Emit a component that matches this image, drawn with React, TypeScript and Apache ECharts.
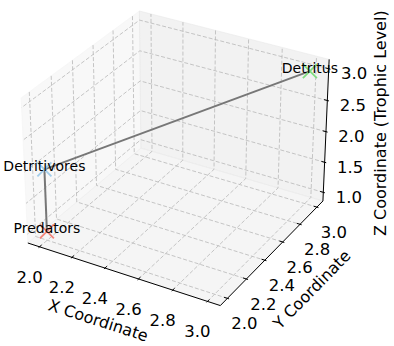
import React, { useEffect, useRef } from 'react';
import * as echarts from 'echarts';

const W = 394;
const H = 346;

// Food-web nodes placed in 3D (x, y, trophic level)
const nodeNames = ['Predators', 'Detritivores', 'Detritus'];
const nodeX = [2, 2, 3];
const nodeY = [2, 2, 3];
const nodeZ = [1, 2, 3];
const nodeColors = ['#f2857a', '#a3cdea', '#80de80'];

// Links between nodes (indices into the node arrays)
const linkFrom = [2, 1];
const linkTo = [1, 0];

const xTicks = [2.0, 2.2, 2.4, 2.6, 2.8, 3.0];
const yTicks = [2.0, 2.2, 2.4, 2.6, 2.8, 3.0];
const zTicks = [1.0, 1.5, 2.0, 2.5, 3.0];
const axisTitles = ['X Coordinate', 'Y Coordinate', 'Z Coordinate (Trophic Level)'];

// ---- view / camera ----
const ELEV = 30;
const AZIM = -60;
const EYE_DIST = 10;
const BOX_ASPECT = [4, 4, 3];
const CX = 178;
const CY = 151.5;
const SCALE = 1930;

const FONT = '"DejaVu Sans", Verdana, sans-serif';

function limits(vals: number[]): [number, number] {
  const lo = Math.min(...vals);
  const hi = Math.max(...vals);
  const r = hi - lo;
  const a = lo - 0.05 * r;
  const b = hi + 0.05 * r;
  const m = (b - a) / 48;
  return [a - m, b + m];
}

const XL = limits(nodeX);
const YL = limits(nodeY);
const ZL = limits(nodeZ);

const aspectNorm = Math.hypot(...BOX_ASPECT);
const box = BOX_ASPECT.map((v) => (v * 1.8294640721620434) / aspectNorm);

const er = (ELEV * Math.PI) / 180;
const ar = (AZIM * Math.PI) / 180;
const vw = [Math.cos(er) * Math.cos(ar), Math.cos(er) * Math.sin(ar), Math.sin(er)];
const uLen = Math.hypot(vw[0], vw[1]);
const vu = [-vw[1] / uLen, vw[0] / uLen, 0];
const vv = [
  vw[1] * vu[2] - vw[2] * vu[1],
  vw[2] * vu[0] - vw[0] * vu[2],
  vw[0] * vu[1] - vw[1] * vu[0],
];

const dot = (a: number[], b: number[]) => a[0] * b[0] + a[1] * b[1] + a[2] * b[2];

// perspective projection of a data point into the flat plane
function project(x: number, y: number, z: number): [number, number] {
  const p = [
    ((x - XL[0]) / (XL[1] - XL[0])) * box[0] - box[0] / 2,
    ((y - YL[0]) / (YL[1] - YL[0])) * box[1] - box[1] / 2,
    ((z - ZL[0]) / (ZL[1] - ZL[0])) * box[2] - box[2] / 2,
  ];
  const den = EYE_DIST - dot(vw, p);
  return [dot(vu, p) / den, dot(vv, p) / den];
}

const [x0, x1] = XL;
const [y0, y1] = YL;
const [z0, z1] = ZL;

const PANE_COLORS = ['rgba(242,242,242,0.5)', 'rgba(230,230,230,0.5)', 'rgba(236,236,236,0.5)'];
const PANES = [
  [[x0, y0, z0], [x0, y1, z0], [x0, y1, z1], [x0, y0, z1]],
  [[x0, y1, z0], [x1, y1, z0], [x1, y1, z1], [x0, y1, z1]],
  [[x0, y0, z0], [x1, y0, z0], [x1, y1, z0], [x0, y1, z0]],
];

const AXIS_EDGES = [
  [[x0, y0, z0], [x1, y0, z0]],
  [[x1, y0, z0], [x1, y1, z0]],
  [[x1, y1, z0], [x1, y1, z1]],
];

const tickItems: number[][] = [
  ...xTicks.map((t) => [0, t]),
  ...yTicks.map((t) => [1, t]),
  ...zTicks.map((t) => [2, t]),
];

function gridPath(axis: number, t: number): number[][] {
  if (axis === 0) return [[t, y0, z0], [t, y1, z0], [t, y1, z1]];
  if (axis === 1) return [[x0, t, z1], [x0, t, z0], [x1, t, z0]];
  return [[x1, y1, t], [x0, y1, t], [x0, y0, t]];
}

function tickSegment(axis: number, t: number): number[][] {
  const dx = (x1 - x0) / 12;
  const dy = (y1 - y0) / 12;
  if (axis === 0) return [[t, y0 + 0.2 * dy, z0], [t, y0 - 0.1 * dy, z0]];
  if (axis === 1) return [[x1 - 0.2 * dx, t, z0], [x1 + 0.1 * dx, t, z0]];
  return [[x1 - 0.2 * dx, y1, t], [x1 + 0.1 * dx, y1, t]];
}

function tickAnchor(axis: number, t: number): number[] {
  if (axis === 0) return [t, y0, z0];
  if (axis === 1) return [x1, t, z0];
  return [x1, y1, t];
}

const TICK_LABEL_OFFSET = [[-10, 30.5], [17, 25.5], [25.5, 5]];
const TITLE_OFFSET = [[-23.3, 47], [38, 38.5], [55, -8.5]];

function buildOption(): any {
  const toPx = (api: any, p: number[]) => api.coord(project(p[0], p[1], p[2]));

  return {
    animation: false,
    grid: { left: 0, right: 0, top: 0, bottom: 0, containLabel: false },
    xAxis: { type: 'value', min: -CX / SCALE, max: (W - CX) / SCALE, show: false },
    yAxis: { type: 'value', min: (CY - H) / SCALE, max: CY / SCALE, show: false },
    series: [
      {
        type: 'custom',
        name: 'panes',
        silent: true,
        z: 1,
        data: PANES.map((_, i) => [i, 0]),
        renderItem: (_: any, api: any) => {
          const i = api.value(0);
          return {
            type: 'polygon',
            shape: { points: PANES[i].map((p) => toPx(api, p)) },
            style: { fill: PANE_COLORS[i], stroke: PANE_COLORS[i], lineWidth: 1 },
          };
        },
      },
      {
        type: 'custom',
        name: 'gridlines',
        silent: true,
        z: 2,
        data: tickItems,
        renderItem: (_: any, api: any) => {
          const pts = gridPath(api.value(0), api.value(1)).map((p) => toPx(api, p));
          return {
            type: 'polyline',
            shape: { points: pts },
            style: { stroke: '#b8b8b8', lineWidth: 0.8, lineDash: [4, 2], fill: 'none' },
          };
        },
      },
      {
        type: 'custom',
        name: 'axes',
        silent: true,
        z: 3,
        data: AXIS_EDGES.map((_, i) => [i, 0]),
        renderItem: (_: any, api: any) => {
          const e = AXIS_EDGES[api.value(0)];
          const a = toPx(api, e[0]);
          const b = toPx(api, e[1]);
          return {
            type: 'line',
            shape: { x1: a[0], y1: a[1], x2: b[0], y2: b[1] },
            style: { stroke: '#000', lineWidth: 1 },
          };
        },
      },
      {
        type: 'custom',
        name: 'ticks',
        silent: true,
        z: 3,
        data: tickItems,
        renderItem: (_: any, api: any) => {
          const s = tickSegment(api.value(0), api.value(1));
          const a = toPx(api, s[0]);
          const b = toPx(api, s[1]);
          return {
            type: 'line',
            shape: { x1: a[0], y1: a[1], x2: b[0], y2: b[1] },
            style: { stroke: '#000', lineWidth: 1 },
          };
        },
      },
      {
        type: 'custom',
        name: 'tickLabels',
        silent: true,
        z: 4,
        data: tickItems,
        renderItem: (_: any, api: any) => {
          const axis = api.value(0);
          const t = api.value(1);
          const c = toPx(api, tickAnchor(axis, t));
          const off = TICK_LABEL_OFFSET[axis];
          return {
            type: 'text',
            x: c[0] + off[0],
            y: c[1] + off[1],
            style: {
              text: t.toFixed(1),
              fill: '#000',
              font: `16.5px ${FONT}`,
              align: 'center',
              verticalAlign: 'middle',
              textAlign: 'center',
              textVerticalAlign: 'middle',
            },
          };
        },
      },
      {
        type: 'custom',
        name: 'axisTitles',
        silent: true,
        z: 4,
        data: AXIS_EDGES.map((_, i) => [i, 0]),
        renderItem: (_: any, api: any) => {
          const i = api.value(0);
          const e = AXIS_EDGES[i];
          const a = toPx(api, e[0]);
          const b = toPx(api, e[1]);
          const mid = toPx(api, [(e[0][0] + e[1][0]) / 2, (e[0][1] + e[1][1]) / 2, (e[0][2] + e[1][2]) / 2]);
          const rot = i === 2 ? Math.PI / 2 : Math.atan2(-(b[1] - a[1]), b[0] - a[0]);
          const off = TITLE_OFFSET[i];
          return {
            type: 'text',
            x: mid[0] + off[0],
            y: mid[1] + off[1],
            rotation: rot,
            style: {
              text: axisTitles[i],
              fill: '#000',
              font: `16px ${FONT}`,
              align: 'center',
              verticalAlign: 'middle',
              textAlign: 'center',
              textVerticalAlign: 'middle',
            },
          };
        },
      },
      {
        type: 'custom',
        name: 'links',
        silent: true,
        z: 5,
        data: linkFrom.map((f, i) => [f, linkTo[i]]),
        renderItem: (_: any, api: any) => {
          const f = api.value(0);
          const t = api.value(1);
          const a = toPx(api, [nodeX[f], nodeY[f], nodeZ[f]]);
          const b = toPx(api, [nodeX[t], nodeY[t], nodeZ[t]]);
          return {
            type: 'line',
            shape: { x1: a[0], y1: a[1], x2: b[0], y2: b[1] },
            style: { stroke: '#777777', lineWidth: 2 },
          };
        },
      },
      {
        type: 'custom',
        name: 'nodes',
        silent: true,
        z: 6,
        data: nodeNames.map((_, i) => [nodeX[i], nodeY[i], nodeZ[i], i]),
        renderItem: (_: any, api: any) => {
          const c = toPx(api, [api.value(0), api.value(1), api.value(2)]);
          const color = nodeColors[api.value(3)];
          const r = 7;
          const st = { stroke: color, lineWidth: 1.8 };
          return {
            type: 'group',
            children: [
              { type: 'line', shape: { x1: c[0] - r, y1: c[1] - r, x2: c[0] + r, y2: c[1] + r }, style: st },
              { type: 'line', shape: { x1: c[0] - r, y1: c[1] + r, x2: c[0] + r, y2: c[1] - r }, style: st },
            ],
          };
        },
      },
      {
        type: 'custom',
        name: 'nodeLabels',
        silent: true,
        z: 7,
        data: nodeNames.map((_, i) => [nodeX[i], nodeY[i], nodeZ[i], i]),
        renderItem: (_: any, api: any) => {
          const c = toPx(api, [api.value(0), api.value(1), api.value(2)]);
          // baseline of the label sits on the node
          return {
            type: 'text',
            x: c[0],
            y: c[1] + 3.5,
            style: {
              text: nodeNames[api.value(3)],
              fill: '#000',
              font: `14px ${FONT}`,
              align: 'center',
              verticalAlign: 'bottom',
              textAlign: 'center',
              textVerticalAlign: 'bottom',
            },
          };
        },
      },
    ],
  };
}

export default function App() {
  const ref = useRef<HTMLDivElement>(null);
  useEffect(() => {
    const chart = echarts.init(ref.current as HTMLDivElement, null, { renderer: 'svg' });
    chart.setOption(buildOption());
    return () => chart.dispose();
  }, []);
  return (
    <div
      ref={ref}
      style={{ position: 'fixed', left: 0, top: 0, width: W, height: H, background: '#fff' }}
    />
  );
}
